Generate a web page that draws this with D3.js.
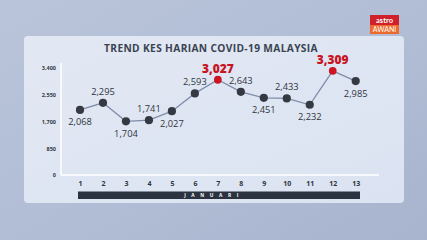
<!DOCTYPE html>
<html><head><meta charset="utf-8">
<script src="https://cdn.jsdelivr.net/npm/d3@7"></script>
<style>html,body{margin:0;padding:0;overflow:hidden;background:#b3bfd7}</style>
</head><body>
<svg id="c" width="427" height="240"></svg>
<script>
const days = [1,2,3,4,5,6,7,8,9,10,11,12,13];
const cases = [2068,2295,1704,1741,2027,2593,3027,2643,2451,2433,2232,3309,2985];
const labelPos = ["below","above","below","above","below","above","above","above","below","above","below","above","below"];
const highlight = [7,12];
const yTicks = [0,850,1700,2550,3400];
const title = "TREND KES HARIAN COVID-19 MALAYSIA";
const month = "JANUARI";

const svg = d3.select("#c");
const defs = svg.append("defs");
const bg = defs.append("linearGradient").attr("id","bg").attr("x1",0).attr("y1",0).attr("x2",1).attr("y2",1);
bg.append("stop").attr("offset","0%").attr("stop-color","#b9c4da");
bg.append("stop").attr("offset","50%").attr("stop-color","#b2bed6");
bg.append("stop").attr("offset","100%").attr("stop-color","#a8b4cd");
const pg = defs.append("linearGradient").attr("id","pg").attr("x1",0).attr("y1",0).attr("x2",1).attr("y2",1);
pg.append("stop").attr("offset","0%").attr("stop-color","#e2e8f3");
pg.append("stop").attr("offset","100%").attr("stop-color","#dbe3f2");

svg.append("rect").attr("width",427).attr("height",240).attr("fill","url(#bg)");
svg.append("rect").attr("x",24).attr("y",36).attr("width",380).attr("height",167).attr("rx",4).attr("fill","url(#pg)");

// logo
svg.append("rect").attr("x",370).attr("y",15).attr("width",29).attr("height",10).attr("fill","#d0202a");
svg.append("rect").attr("x",370).attr("y",25).attr("width",29).attr("height",9).attr("fill","#ee6a2c");
svg.append("text").attr("x",384.5).attr("y",23).attr("text-anchor","middle").attr("fill","#fff")
  .attr("font-family","Lato, sans-serif").attr("font-weight","700").attr("font-size","7.5px").text("astro");
svg.append("text").attr("x",384.5).attr("y",32.3).attr("text-anchor","middle").attr("fill","#fff")
  .attr("font-family","Lato, sans-serif").attr("font-size","7px").text("AWANI");

svg.append("text").attr("x",211).attr("y",52).attr("text-anchor","middle").attr("fill","#3a4352")
  .attr("font-family","'Open Sans', sans-serif").attr("font-weight","700").attr("font-size","10.2px")
  .attr("letter-spacing","0.35px").text(title);

const x = d3.scalePoint().domain(days).range([80,355.7]);
const y = d3.scaleLinear().domain([0,3400]).range([175,68]);

// axes lines
svg.append("line").attr("x1",61).attr("x2",61).attr("y1",63).attr("y2",175).attr("stroke","#fff").attr("stroke-width",1.5);
svg.append("line").attr("x1",61).attr("x2",379).attr("y1",175).attr("y2",175).attr("stroke","#fff").attr("stroke-width",1.5);

const yAxis = d3.axisLeft(y).tickValues(yTicks).tickSize(0).tickPadding(0).tickFormat(d3.format(","));
const ya = svg.append("g").attr("transform","translate(56,0)").call(yAxis);
ya.select(".domain").remove();
ya.selectAll("text").attr("fill","#333a44").attr("font-family","'Open Sans', sans-serif")
  .attr("font-weight","700").attr("font-size","5.5px");

const xAxis = d3.axisBottom(x).tickSize(0).tickPadding(0);
const xa = svg.append("g").attr("transform","translate(0,181)").call(xAxis);
xa.select(".domain").remove();
xa.selectAll("text").attr("fill","#2e3540").attr("font-family","'Open Sans', sans-serif")
  .attr("font-weight","700").attr("font-size","7px");

// month bar
svg.append("rect").attr("x",78).attr("y",191.5).attr("width",282).attr("height",7.5).attr("fill","#2b3340");
svg.append("text").attr("x",214).attr("y",197.3).attr("text-anchor","middle").attr("fill","#fff")
  .attr("font-family","'Open Sans', sans-serif").attr("font-weight","700").attr("font-size","4.8px")
  .attr("letter-spacing","5.6px").text(month);

// line
const data = days.map((d,i)=>({d, v:cases[i], pos:labelPos[i], hi:highlight.includes(d)}));
svg.append("path").datum(data).attr("fill","none").attr("stroke","#7f8dab").attr("stroke-width",1.3)
  .attr("d", d3.line().x(p=>x(p.d)).y(p=>y(p.v)));

svg.selectAll("circle.pt").data(data).join("circle").attr("class","pt")
  .attr("cx",p=>x(p.d)).attr("cy",p=>y(p.v)).attr("r",p=>p.hi?3.9:4.1)
  .attr("fill",p=>p.hi?"#cc1424":"#353a42");

svg.selectAll("text.lbl").data(data).join("text").attr("class","lbl")
  .attr("x",p=>x(p.d)).attr("y",p=> p.hi ? y(p.v)-6.5 : (p.pos==="above" ? y(p.v)-8 : y(p.v)+15.5))
  .attr("text-anchor","middle")
  .attr("fill",p=>p.hi?"#c8141f":"#2f343c")
  .attr("font-family","'Open Sans', sans-serif")
  .attr("font-weight",p=>p.hi?"800":"400")
  .attr("font-size",p=>p.hi?"12px":"9.3px")
  .text(p=>d3.format(",")(p.v));
</script>
</body></html>
